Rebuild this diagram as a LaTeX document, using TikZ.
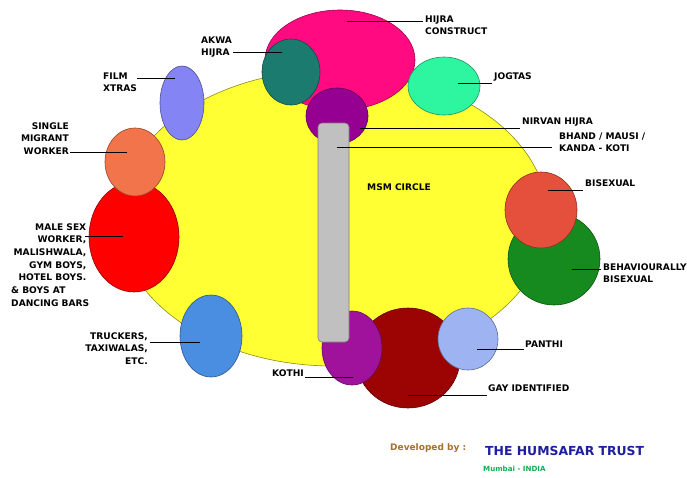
\documentclass[tikz,border=0pt]{standalone}
\usepackage{fontspec}
\setmainfont{DejaVu Sans}
\usetikzlibrary{shapes.geometric}
\definecolor{cyel}{HTML}{FFFF33}
\definecolor{cpink}{HTML}{FF0A80}
\definecolor{cteal}{HTML}{1B7B6F}
\definecolor{cmint}{HTML}{2EF5A0}
\definecolor{cpurp}{HTML}{960092}
\definecolor{cgray}{HTML}{C0C0C0}
\definecolor{clav}{HTML}{8484F4}
\definecolor{ccoral}{HTML}{F2744A}
\definecolor{cred}{HTML}{FF0000}
\definecolor{cblue}{HTML}{4A8EE2}
\definecolor{ctomato}{HTML}{E4503C}
\definecolor{cgreen}{HTML}{168A1E}
\definecolor{ckothi}{HTML}{A0129C}
\definecolor{cdred}{HTML}{9C0404}
\definecolor{cpanthi}{HTML}{9EB4F2}
\definecolor{cdev}{HTML}{A8702C}
\definecolor{ctrust}{HTML}{1E1E9E}
\definecolor{cmum}{HTML}{12B050}
\begin{document}
\begin{tikzpicture}[x=1pt,y=-1pt,
  blob/.style={ellipse, fill=#1, draw=#1!60!black, line width=0.6pt, inner sep=0pt},
  lbl/.style={font=\fontsize{9.1}{12.7}\selectfont\bfseries, inner sep=0pt},
  lead/.style={draw=black, line width=0.9pt}]
\useasboundingbox (0,0) rectangle (687,477);
\fill[white] (0,0) rectangle (687,477);

% main circle
\node[ellipse, fill=cyel, draw=cyel!55!black, line width=0.6pt, inner sep=0pt,
      minimum width=430pt, minimum height=296pt] (msm) at (333,218) {};

% top cluster
\node[blob=cpink, minimum width=150pt, minimum height=100pt] (hijra) at (340,60) {};
\node[blob=cteal, minimum width=58pt, minimum height=66pt] (akwa) at (291,72) {};
\node[blob=cmint, minimum width=72pt, minimum height=58pt] (jogtas) at (444,86) {};
\node[blob=cpurp, minimum width=62pt, minimum height=56pt] (nirvan) at (337,116) {};

% left side
\node[blob=clav, minimum width=44pt, minimum height=74pt] (film) at (182,103) {};
\node[blob=cred, minimum width=90pt, minimum height=110pt] (msw) at (134,237) {};
\node[blob=ccoral, minimum width=60pt, minimum height=68pt] (single) at (135,162) {};
\node[blob=cblue, minimum width=62pt, minimum height=82pt] (truck) at (211,336) {};

% right side
\node[blob=cgreen, minimum width=92pt, minimum height=92pt] (behav) at (554,259) {};
\node[blob=ctomato, minimum width=72pt, minimum height=76pt] (bisex) at (541,210) {};

% bottom cluster
\node[blob=cdred, minimum width=104pt, minimum height=100pt] (gay) at (408,358) {};
\node[blob=ckothi, minimum width=60pt, minimum height=74pt] (kothi) at (352,348) {};
\node[blob=cpanthi, minimum width=60pt, minimum height=62pt] (panthi) at (468,339) {};

% gray bar
\node[rectangle, rounded corners=4pt, fill=cgray, draw=cgray!65!black, line width=0.6pt,
      inner sep=0pt, minimum width=31pt, minimum height=219pt] (bar) at (333.5,232.5) {};

% labels
\node[lbl, anchor=base west] (lmsm) at (367,190) {MSM CIRCLE};
\node[lbl, anchor=base west] (lhc) at (425,22) {\begin{tabular}[t]{@{}l@{}}HIJRA\\CONSTRUCT\end{tabular}};
\node[lbl, anchor=base west] (lakwa) at (201,43) {\begin{tabular}[t]{@{}l@{}}AKWA\\HIJRA\end{tabular}};
\node[lbl, anchor=base west] (lfilm) at (103,79) {\begin{tabular}[t]{@{}l@{}}FILM\\XTRAS\end{tabular}};
\node[lbl, anchor=base east] (lsingle) at (69,129) {\begin{tabular}[t]{@{}r@{}}SINGLE\\MIGRANT\\WORKER\end{tabular}};
\node[lbl, anchor=base west] (lmsw) at (11,230) {\begin{tabular}[t]{@{}r@{}}MALE SEX\kern3pt\\WORKER,\kern3pt\\MALISHWALA,\kern3pt\\GYM BOYS,\kern3pt\\HOTEL BOYS.\kern3pt\\\multicolumn{1}{@{}l@{}}{\& BOYS AT}\\\multicolumn{1}{@{}l@{}}{DANCING BARS}\end{tabular}};
\node[lbl, anchor=base east] (ltruck) at (148,339) {\begin{tabular}[t]{@{}r@{}}TRUCKERS,\\TAXIWALAS,\\ETC.\end{tabular}};
\node[lbl, anchor=base east] (lkothi) at (304,376) {KOTHI};
\node[lbl, anchor=base west] (lgay) at (488,391) {GAY IDENTIFIED};
\node[lbl, anchor=base west] (lpanthi) at (525,347) {PANTHI};
\node[lbl, anchor=base west] (lbehav) at (603,270) {\begin{tabular}[t]{@{}l@{}}BEHAVIOURALLY\\BISEXUAL\end{tabular}};
\node[lbl, anchor=base west] (lbisex) at (585,186) {BISEXUAL};
\node[lbl, anchor=base west] (lbhand) at (559,139) {\begin{tabular}[t]{@{}l@{}}BHAND / MAUSI /\\KANDA - KOTI\end{tabular}};
\node[lbl, anchor=base west] (lnirvan) at (522,124) {NIRVAN HIJRA};
\node[lbl, anchor=base west] (ljog) at (494,79) {JOGTAS};

% leader line ends
\coordinate (a1) at (347,21);  \coordinate (a2) at (423,21);
\coordinate (b1) at (282,52);  \coordinate (b2) at (233,52);
\coordinate (c1) at (175,78);  \coordinate (c2) at (137,78);
\coordinate (d1) at (127,152); \coordinate (d2) at (70,152);
\coordinate (e1) at (123,236); \coordinate (e2) at (85,236);
\coordinate (f1) at (200,342); \coordinate (f2) at (150,342);
\coordinate (g1) at (353,377); \coordinate (g2) at (305,377);
\coordinate (h1) at (408,395); \coordinate (h2) at (487,395);
\coordinate (i1) at (477,349); \coordinate (i2) at (524,349);
\coordinate (j1) at (572,269); \coordinate (j2) at (601,269);
\coordinate (k1) at (548,190); \coordinate (k2) at (583,190);
\coordinate (l1) at (337,147); \coordinate (l2) at (552,147);
\coordinate (m1) at (360,128); \coordinate (m2) at (520,128);
\coordinate (n1) at (458,83);  \coordinate (n2) at (492,83);
\foreach \s in {a,b,c,d,e,f,g,h,i,j,k,l,m,n}
  \draw[lead] (\s1) -- (\s2);

% credits
\node[inner sep=0pt, anchor=base west, text=cdev, font=\fontsize{9}{10}\selectfont\bfseries] (dev) at (390,450) {Developed by :};
\node[inner sep=0pt, anchor=base west, text=ctrust, font=\fontsize{12.4}{14}\selectfont\bfseries] (trust) at (485,455) {THE HUMSAFAR TRUST};
\node[inner sep=0pt, anchor=base west, text=cmum, font=\fontsize{7.1}{8}\selectfont\bfseries] (mum) at (483,471) {Mumbai - INDIA};
\end{tikzpicture}
\end{document}
